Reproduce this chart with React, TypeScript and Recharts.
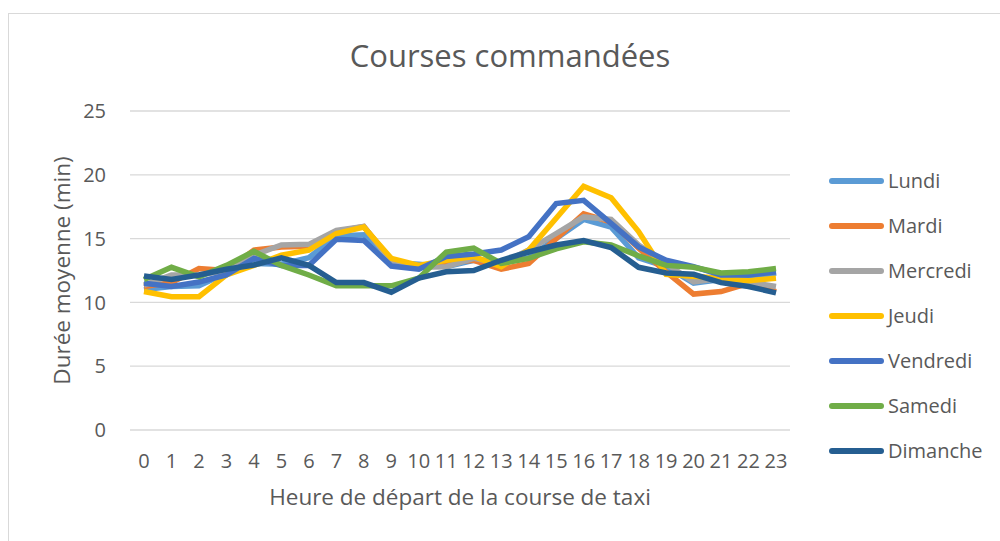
import { LineChart, Line, XAxis, YAxis, CartesianGrid } from "recharts";

const hours = ["0", "1", "2", "3", "4", "5", "6", "7", "8", "9", "10", "11", "12", "13", "14", "15", "16", "17", "18", "19", "20", "21", "22", "23"];

const lundi = [11.0, 11.25, 11.3, 12.3, 13.05, 13.0, 13.5, 15.2, 15.3, 13.1, 13.0, 12.8, 13.3, 13.1, 13.5, 15.0, 16.5, 15.9, 13.5, 12.8, 11.5, 11.8, 11.9, 12.3];
const mardi = [11.25, 11.55, 12.65, 12.5, 14.1, 14.35, 14.4, 15.55, 15.95, 13.3, 12.8, 13.1, 13.3, 12.6, 13.05, 15.0, 16.95, 16.3, 14.25, 12.4, 10.65, 10.85, 11.5, 10.85];
const mercredi = [11.35, 12.15, 12.15, 12.5, 13.7, 14.5, 14.55, 15.65, 15.95, 13.2, 12.75, 12.8, 13.45, 13.05, 14.1, 15.4, 16.7, 16.5, 14.5, 13.05, 11.6, 11.9, 11.6, 11.25];
const jeudi = [10.85, 10.45, 10.45, 12.15, 12.9, 13.7, 14.1, 15.4, 15.9, 13.45, 12.9, 13.3, 13.6, 12.8, 14.1, 16.6, 19.1, 18.2, 15.55, 12.2, 12.05, 11.9, 11.7, 11.9];
const vendredi = [11.5, 11.25, 11.6, 12.15, 13.45, 12.9, 12.9, 14.95, 14.85, 12.85, 12.6, 13.6, 13.8, 14.1, 15.15, 17.75, 18.0, 16.2, 14.35, 13.3, 12.8, 12.15, 12.15, 12.4];
const samedi = [11.8, 12.75, 12.0, 12.9, 14.0, 12.9, 12.15, 11.3, 11.3, 11.3, 11.9, 13.95, 14.25, 13.05, 13.45, 14.2, 14.75, 14.5, 13.65, 12.9, 12.75, 12.3, 12.4, 12.65];
const dimanche = [12.07, 11.8, 12.15, 12.6, 12.93, 13.5, 12.9, 11.55, 11.55, 10.8, 11.9, 12.4, 12.5, 13.3, 13.95, 14.5, 14.85, 14.3, 12.75, 12.3, 12.2, 11.55, 11.25, 10.75];

const yTicks = [0, 5, 10, 15, 20, 25];

const series = [
  { key: "Lundi", values: lundi, color: "#5B9BD5" },
  { key: "Mardi", values: mardi, color: "#ED7D31" },
  { key: "Mercredi", values: mercredi, color: "#A5A5A5" },
  { key: "Jeudi", values: jeudi, color: "#FFC000" },
  { key: "Vendredi", values: vendredi, color: "#4472C4" },
  { key: "Samedi", values: samedi, color: "#70AD47" },
  { key: "Dimanche", values: dimanche, color: "#255E91" },
];

const data = hours.map((h, i) => {
  const row: Record<string, string | number> = { hour: h };
  series.forEach((s) => (row[s.key] = s.values[i]));
  return row;
});

const font = "'Open Sans', sans-serif";
const textColor = "#595959";

function LegendBox() {
  return (
    <div style={{ position: "absolute", left: 829, top: 158, fontFamily: font, fontSize: 20, color: textColor }}>
      {series.map((s) => (
        <div key={s.key} style={{ display: "flex", alignItems: "center", height: 45 }}>
          <span style={{ display: "inline-block", width: 55, height: 6, borderRadius: 3, background: s.color, marginRight: 4 }} />
          {s.key}
        </div>
      ))}
    </div>
  );
}

export default function App() {
  return (
    <div style={{ position: "absolute", left: 0, top: 0, width: 1000, height: 541, background: "#fff", overflow: "hidden" }}>
      <div style={{ position: "absolute", left: 8, top: 13, width: 1000, height: 540, borderLeft: "1px solid #d9d9d9", borderTop: "1px solid #d9d9d9" }} />
      <div style={{ position: "absolute", left: 0, top: 34, width: 1020, textAlign: "center", fontFamily: font, fontSize: 31, color: textColor }}>
        Courses commandées
      </div>
      <div style={{ position: "absolute", left: 0, top: 0 }}>
        <LineChart width={1000} height={541} data={data} margin={{ top: 111, right: 210, bottom: 0, left: 0 }}>
          <CartesianGrid vertical={false} stroke="#d9d9d9" strokeWidth={1.3} />
          <XAxis
            dataKey="hour"
            height={111}
            axisLine={false}
            tickLine={false}
            tickSize={0}
            tickMargin={24}
            interval={0}
            padding={{ left: 14, right: 14 }}
            tick={{ fontSize: 20, fill: textColor, fontFamily: font }}
            label={{ value: "Heure de départ de la course de taxi", position: "center", dy: 12, fontSize: 22.5, fill: textColor, fontFamily: font }}
          />
          <YAxis
            width={130}
            domain={[0, 25]}
            ticks={yTicks}
            axisLine={false}
            tickLine={false}
            tickSize={0}
            tickMargin={24}
            tick={{ fontSize: 20, fill: textColor, fontFamily: font }}
            label={{ value: "Durée moyenne (min)", angle: -90, position: "center", dx: -3, fontSize: 22.5, fill: textColor, fontFamily: font }}
          />
          {series.map((s) => (
            <Line
              key={s.key}
              type="linear"
              dataKey={s.key}
              stroke={s.color}
              strokeWidth={5.5}
              dot={false}
              isAnimationActive={false}
            />
          ))}
        </LineChart>
      </div>
      <LegendBox />
    </div>
  );
}
